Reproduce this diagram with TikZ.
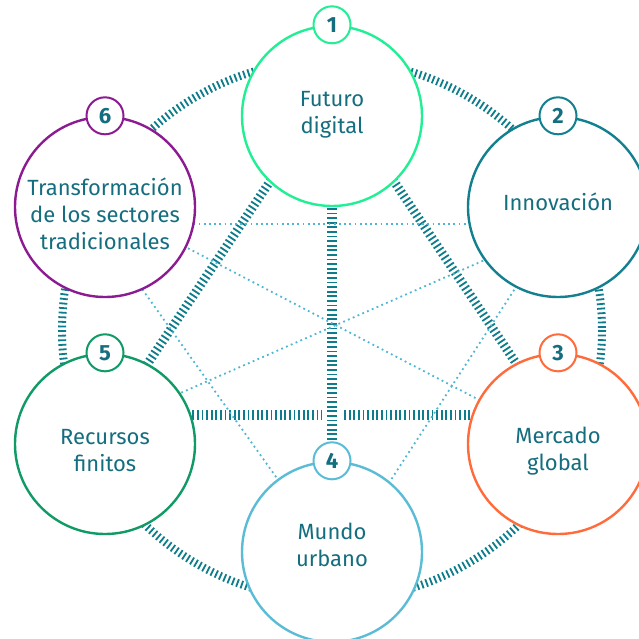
\documentclass[tikz,border=0pt]{standalone}
\usepackage{fontspec}
\setmainfont{Fira Sans}
\usetikzlibrary{calc}
\definecolor{txt}{HTML}{156E7F}
\definecolor{hatch}{HTML}{0E7C8A}
\definecolor{dotc}{HTML}{4DB6D3}
\definecolor{cA}{HTML}{22EE94}
\definecolor{cB}{HTML}{12808E}
\definecolor{cC}{HTML}{FF6B3B}
\definecolor{cD}{HTML}{5BBCD5}
\definecolor{cE}{HTML}{0F9A66}
\definecolor{cF}{HTML}{8C1B91}
\tikzset{
  bigc/.style={circle, minimum size=180pt, inner sep=0pt, fill=white, line width=2.4pt, draw=#1},
  badge/.style={circle, minimum size=37pt, inner sep=0pt, fill=white, line width=2pt, draw=#1, text=txt, font=\fontsize{22}{22}\selectfont\bfseries},
  lbl/.style={text=txt, align=center, font=\fontsize{22}{27}\selectfont},
  hatchline/.style={draw=hatch, line width=#1, dash pattern=on 1.8pt off 2.8pt},
  dotline/.style={draw=dotc, line width=1.8pt, dash pattern=on 1.8pt off 3.4pt},
}
\begin{document}
\begin{tikzpicture}[x=1pt,y=-1pt]
\useasboundingbox (0,0) rectangle (639,638);
% centres
\coordinate (p1) at (332,116);
\coordinate (p2) at (558,207);
\coordinate (p3) at (558,444);
\coordinate (p4) at (332,552);
\coordinate (p5) at (105,444);
\coordinate (p6) at (105,207);
\coordinate (ringc) at (332,330);
% line end points (hidden under circles)
\coordinate (a15) at (281,165); \coordinate (b15) at (138,378);
\coordinate (a13) at (383,165); \coordinate (b13) at (526,378);
\coordinate (a53) at (105,415); \coordinate (b53) at (558,415);
\coordinate (a62) at (105,224); \coordinate (b62) at (558,224);
\coordinate (a63) at (105,205); \coordinate (b63) at (558,441);
\coordinate (a52) at (105,426); \coordinate (b52) at (558,228);
\coordinate (a64) at (100,230); \coordinate (b64) at (321,540);
\coordinate (a42) at (352,540); \coordinate (b42) at (553,230);
% outer ring
\draw[hatchline=8pt] (ringc) circle[radius=270];
% hatched chords
\draw[hatchline=9pt] (a15) -- (b15);
\draw[hatchline=9pt] (a13) -- (b13);
\draw[hatchline=10pt] (a53) -- (b53);
\draw[hatchline=10pt, preaction={draw=white, line width=20pt, dash pattern=on 1000pt off 0pt}] (p1) -- (p4);
% dotted lines
\draw[dotline] (a62) -- (b62);
\draw[dotline] (a63) -- (b63);
\draw[dotline] (a52) -- (b52);
\draw[dotline] (a64) -- (b64);
\draw[dotline] (a42) -- (b42);
% circles
\node[bigc=cA] (n1) at (p1) {};
\node[bigc=cB] (n2) at (p2) {};
\node[bigc=cC] (n3) at (p3) {};
\node[bigc=cD] (n4) at (p4) {};
\node[bigc=cE] (n5) at (p5) {};
\node[bigc=cF] (n6) at (p6) {};
% badges
\node[badge=cA] (b1) at (n1.north) {1};
\node[badge=cB] (b2) at (n2.north) {2};
\node[badge=cC] (b3) at (n3.north) {3};
\node[badge=cD] (b4) at (n4.north) {4};
\node[badge=cE] (b5) at (n5.north) {5};
\node[badge=cF] (b6) at (n6.north) {6};
% labels
\node[lbl] (t1) at (332,115) {Futuro\\digital};
\node[lbl] (t2) at (558,202) {Innovación};
\node[lbl] (t3) at (558,451) {Mercado\\global};
\node[lbl] (t4) at (332,545) {Mundo\\urbano};
\node[lbl] (t5) at (105,451) {Recursos\\finitos};
\node[lbl] (t6) at (105,214) {Transformación\\de los sectores\\tradicionales};
\end{tikzpicture}
\end{document}
